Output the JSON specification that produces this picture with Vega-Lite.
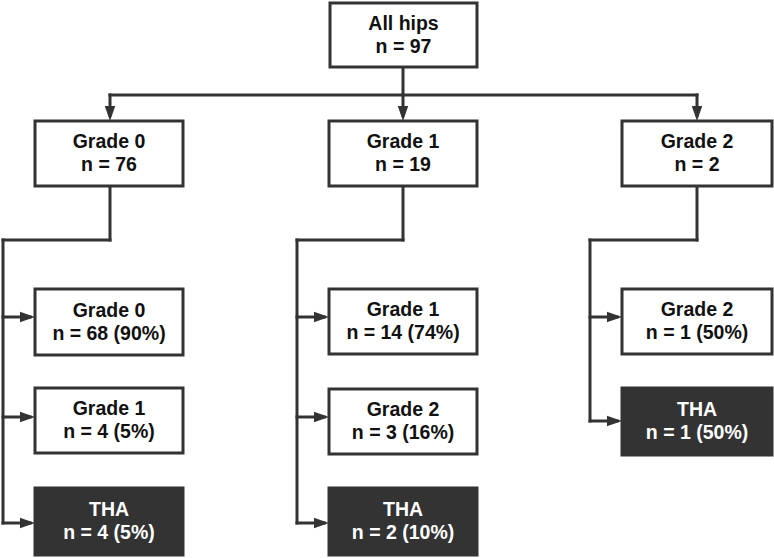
{
  "$schema": "https://vega.github.io/schema/vega-lite/v6.json",
  "width": 774,
  "height": 558,
  "padding": 0,
  "autosize": {"type": "none"},
  "background": "white",
  "config": {"view": {"stroke": null}},
  "datasets": {
    "boxes": [
      {"x1": 330, "x2": 477, "y1": 3, "y2": 67, "cx": 403.5, "cy": 35, "label": "All hips\nn = 97", "dark": false},
      {"x1": 35, "x2": 183, "y1": 121, "y2": 186, "cx": 109, "cy": 153.5, "label": "Grade 0\nn = 76", "dark": false},
      {"x1": 329, "x2": 477, "y1": 121, "y2": 186, "cx": 403, "cy": 153.5, "label": "Grade 1\nn = 19", "dark": false},
      {"x1": 622, "x2": 772, "y1": 121, "y2": 186, "cx": 697, "cy": 153.5, "label": "Grade 2\nn = 2", "dark": false},
      {"x1": 35, "x2": 183, "y1": 289, "y2": 355, "cx": 109, "cy": 322, "label": "Grade 0\nn = 68 (90%)", "dark": false},
      {"x1": 35, "x2": 183, "y1": 388, "y2": 453, "cx": 109, "cy": 420.5, "label": "Grade 1\nn = 4 (5%)", "dark": false},
      {"x1": 35, "x2": 183, "y1": 488, "y2": 555, "cx": 109, "cy": 521.5, "label": "THA\nn = 4 (5%)", "dark": true},
      {"x1": 329, "x2": 477, "y1": 289, "y2": 354, "cx": 403, "cy": 321.5, "label": "Grade 1\nn = 14 (74%)", "dark": false},
      {"x1": 329, "x2": 477, "y1": 389, "y2": 454, "cx": 403, "cy": 421.5, "label": "Grade 2\nn = 3 (16%)", "dark": false},
      {"x1": 329, "x2": 477, "y1": 488, "y2": 555, "cx": 403, "cy": 521.5, "label": "THA\nn = 2 (10%)", "dark": true},
      {"x1": 622, "x2": 772, "y1": 289, "y2": 354, "cx": 697, "cy": 321.5, "label": "Grade 2\nn = 1 (50%)", "dark": false},
      {"x1": 622, "x2": 772, "y1": 388, "y2": 455, "cx": 697, "cy": 421.5, "label": "THA\nn = 1 (50%)", "dark": true}
    ],
    "lines": [
      {"x1": 403, "y1": 67, "x2": 403, "y2": 95},
      {"x1": 110, "y1": 95, "x2": 697, "y2": 95},
      {"x1": 110, "y1": 95, "x2": 110, "y2": 115},
      {"x1": 403, "y1": 95, "x2": 403, "y2": 115},
      {"x1": 697, "y1": 95, "x2": 697, "y2": 115},
      {"x1": 110, "y1": 186, "x2": 110, "y2": 240},
      {"x1": 110, "y1": 240, "x2": 3, "y2": 240},
      {"x1": 3, "y1": 240, "x2": 3, "y2": 523},
      {"x1": 3, "y1": 317, "x2": 30, "y2": 317},
      {"x1": 3, "y1": 417, "x2": 30, "y2": 417},
      {"x1": 3, "y1": 523, "x2": 30, "y2": 523},
      {"x1": 403, "y1": 186, "x2": 403, "y2": 240},
      {"x1": 403, "y1": 240, "x2": 297, "y2": 240},
      {"x1": 297, "y1": 240, "x2": 297, "y2": 523},
      {"x1": 297, "y1": 317, "x2": 324, "y2": 317},
      {"x1": 297, "y1": 417, "x2": 324, "y2": 417},
      {"x1": 297, "y1": 523, "x2": 324, "y2": 523},
      {"x1": 697, "y1": 186, "x2": 697, "y2": 240},
      {"x1": 697, "y1": 240, "x2": 590, "y2": 240},
      {"x1": 590, "y1": 240, "x2": 590, "y2": 421},
      {"x1": 590, "y1": 317, "x2": 617, "y2": 317},
      {"x1": 590, "y1": 421, "x2": 617, "y2": 421}
    ],
    "downArrows": [
      {"x": 110, "y": 121},
      {"x": 403, "y": 121},
      {"x": 697, "y": 121}
    ],
    "rightArrows": [
      {"x": 35, "y": 317},
      {"x": 35, "y": 417},
      {"x": 35, "y": 523},
      {"x": 329, "y": 317},
      {"x": 329, "y": 417},
      {"x": 329, "y": 523},
      {"x": 622, "y": 317},
      {"x": 622, "y": 421}
    ]
  },
  "layer": [
    {
      "data": {"name": "lines"},
      "mark": {"type": "rule", "stroke": "#333333", "strokeWidth": 3, "strokeCap": "square"},
      "encoding": {
        "x": {"field": "x1", "type": "quantitative", "scale": {"domain": [0, 774], "nice": false, "zero": false}, "axis": null},
        "x2": {"field": "x2"},
        "y": {"field": "y1", "type": "quantitative", "scale": {"domain": [0, 558], "nice": false, "zero": false, "reverse": true}, "axis": null},
        "y2": {"field": "y2"}
      }
    },
    {
      "data": {"name": "downArrows"},
      "mark": {"type": "point", "shape": "M-0.35,-1L0.35,-1L0,0Z", "filled": true, "fill": "#333333", "opacity": 1, "strokeWidth": 0, "size": 900},
      "encoding": {
        "x": {"field": "x", "type": "quantitative", "axis": null},
        "y": {"field": "y", "type": "quantitative", "axis": null}
      }
    },
    {
      "data": {"name": "rightArrows"},
      "mark": {"type": "point", "shape": "M-1,-0.35L-1,0.35L0,0Z", "filled": true, "fill": "#333333", "opacity": 1, "strokeWidth": 0, "size": 900},
      "encoding": {
        "x": {"field": "x", "type": "quantitative", "axis": null},
        "y": {"field": "y", "type": "quantitative", "axis": null}
      }
    },
    {
      "data": {"name": "boxes"},
      "mark": {"type": "rect", "stroke": "#333333", "strokeWidth": 3},
      "encoding": {
        "x": {"field": "x1", "type": "quantitative", "axis": null},
        "x2": {"field": "x2"},
        "y": {"field": "y1", "type": "quantitative", "axis": null},
        "y2": {"field": "y2"},
        "fill": {"field": "dark", "type": "nominal", "scale": {"domain": [false, true], "range": ["#ffffff", "#333333"]}, "legend": null}
      }
    },
    {
      "data": {"name": "boxes"},
      "mark": {"type": "text", "font": "Liberation Sans", "fontWeight": "bold", "fontSize": 19.5, "align": "center", "baseline": "middle", "lineBreak": "\n", "lineHeight": 23, "dy": -11.5},
      "encoding": {
        "x": {"field": "cx", "type": "quantitative", "axis": null},
        "y": {"field": "cy", "type": "quantitative", "axis": null},
        "text": {"field": "label"},
        "color": {"field": "dark", "type": "nominal", "scale": {"domain": [false, true], "range": ["#111111", "#ffffff"]}, "legend": null}
      }
    }
  ]
}
